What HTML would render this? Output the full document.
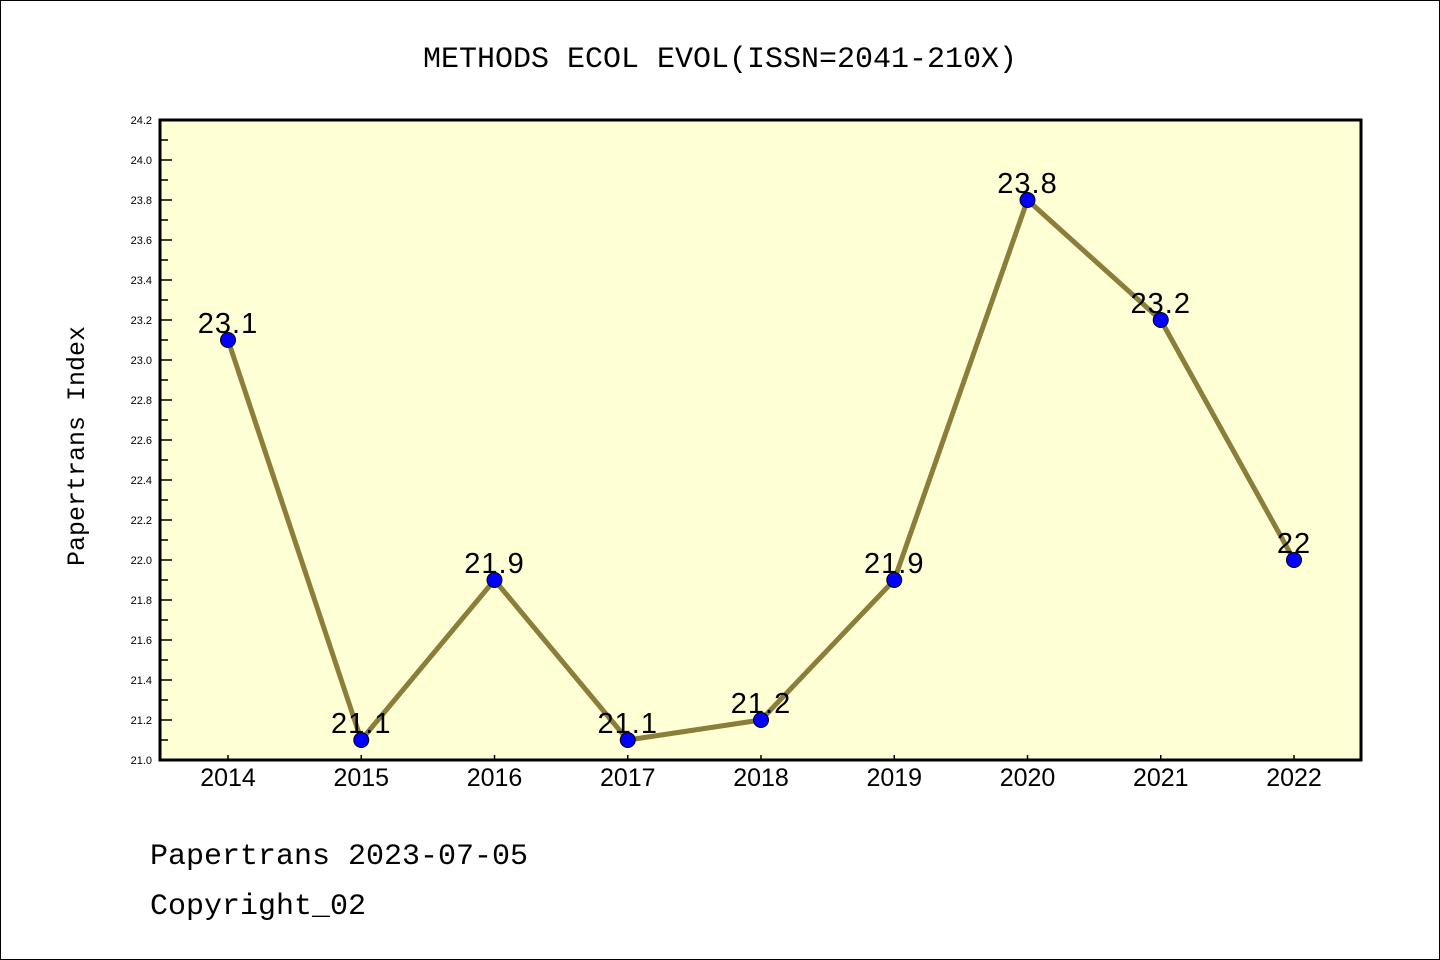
<!DOCTYPE html>
<html><head><meta charset="utf-8"><style>
body{margin:0;background:#fff;}
svg{display:block;font-family:"Liberation Mono","DejaVu Sans Mono",monospace;}
</style></head><body>
<svg id="chart" width="1440" height="960">
<rect x="0.5" y="0.5" width="1439" height="959" fill="#fff" stroke="#000"/>
<text x="720" y="67" font-size="30" text-anchor="middle">METHODS ECOL EVOL(ISSN=2041-210X)</text>
<rect x="160" y="120" width="1201" height="640" fill="#ffffd5"/>
<g id="grid"></g>
<g id="series"></g>
<rect x="160" y="120" width="1201" height="640" fill="none" stroke="#000" stroke-width="3"/>
<text transform="translate(84,446) rotate(-90)" font-size="25" text-anchor="middle">Papertrans Index</text>
<text x="150" y="864" font-size="30">Papertrans 2023-07-05</text>
<text x="150" y="914" font-size="30">Copyright_02</text>
</svg>
<script>
const years = ["2014","2015","2016","2017","2018","2019","2020","2021","2022"];
const values = [23.1,21.1,21.9,21.1,21.2,21.9,23.8,23.2,22.0];
const valueLabels = ["23.1","21.1","21.9","21.1","21.2","21.9","23.8","23.2","22"];
const yTicks = ["21.0","21.2","21.4","21.6","21.8","22.0","22.2","22.4","22.6","22.8","23.0","23.2","23.4","23.6","23.8","24.0","24.2"];
const yMin = 21.0, yMax = 24.2;
const NS = "http://www.w3.org/2000/svg";
function yS(v){return 760 - (v - yMin) / (yMax - yMin) * 640;}
function xS(i){return 228 + i * (1294 - 228) / (years.length - 1);}
function mk(tag, attrs, parent, text){const e=document.createElementNS(NS,tag);for(const k in attrs)e.setAttribute(k,attrs[k]);if(text!==undefined)e.textContent=text;parent.appendChild(e);return e;}
const grid = document.getElementById('grid'), ser = document.getElementById('series');
yTicks.forEach((t)=>{
  const v=parseFloat(t), y=yS(v);
  const l=mk('line',{x1:160,x2:172,y1:y,y2:y,stroke:'#000','stroke-width':1.5},grid);
  
  
  const tx=mk('text',{x:152,y:y+4,'font-size':11,'text-anchor':'end','font-family':'Liberation Sans, sans-serif'},grid,t);
  
  
  if(v<yMax-0.01){
    const m=mk('line',{x1:160,x2:168,y1:yS(v+0.1),y2:yS(v+0.1),stroke:'#000','stroke-width':1.5},grid);
    
    
  }
});
years.forEach((yr,i)=>{
  const x=xS(i);
  const l=mk('line',{x1:x,x2:x,y1:760,y2:755,stroke:'#000','stroke-width':1.5},grid);
  
  
  const tx=mk('text',{x:x,y:786,'font-size':25,'text-anchor':'middle','font-family':'Liberation Sans, sans-serif'},grid,yr);
  
  
});
const pts=values.map((v,i)=>xS(i)+','+yS(v)).join(' ');
const line=mk('polyline',{points:pts,fill:'none',stroke:'#8b7d3a','stroke-width':5,'stroke-linejoin':'round'},ser);


values.forEach((v,i)=>{
  const c=mk('circle',{cx:xS(i),cy:yS(v),r:7.5,fill:'#0000ff',stroke:'#000','stroke-width':1},ser);
  
  
  const t=mk('text',{x:xS(i),y:yS(v)-7,'font-size':29,'text-anchor':'middle','letter-spacing':'1','font-family':'Liberation Sans, sans-serif'},ser,valueLabels[i]);
  
  
});
</script>
</body></html>
